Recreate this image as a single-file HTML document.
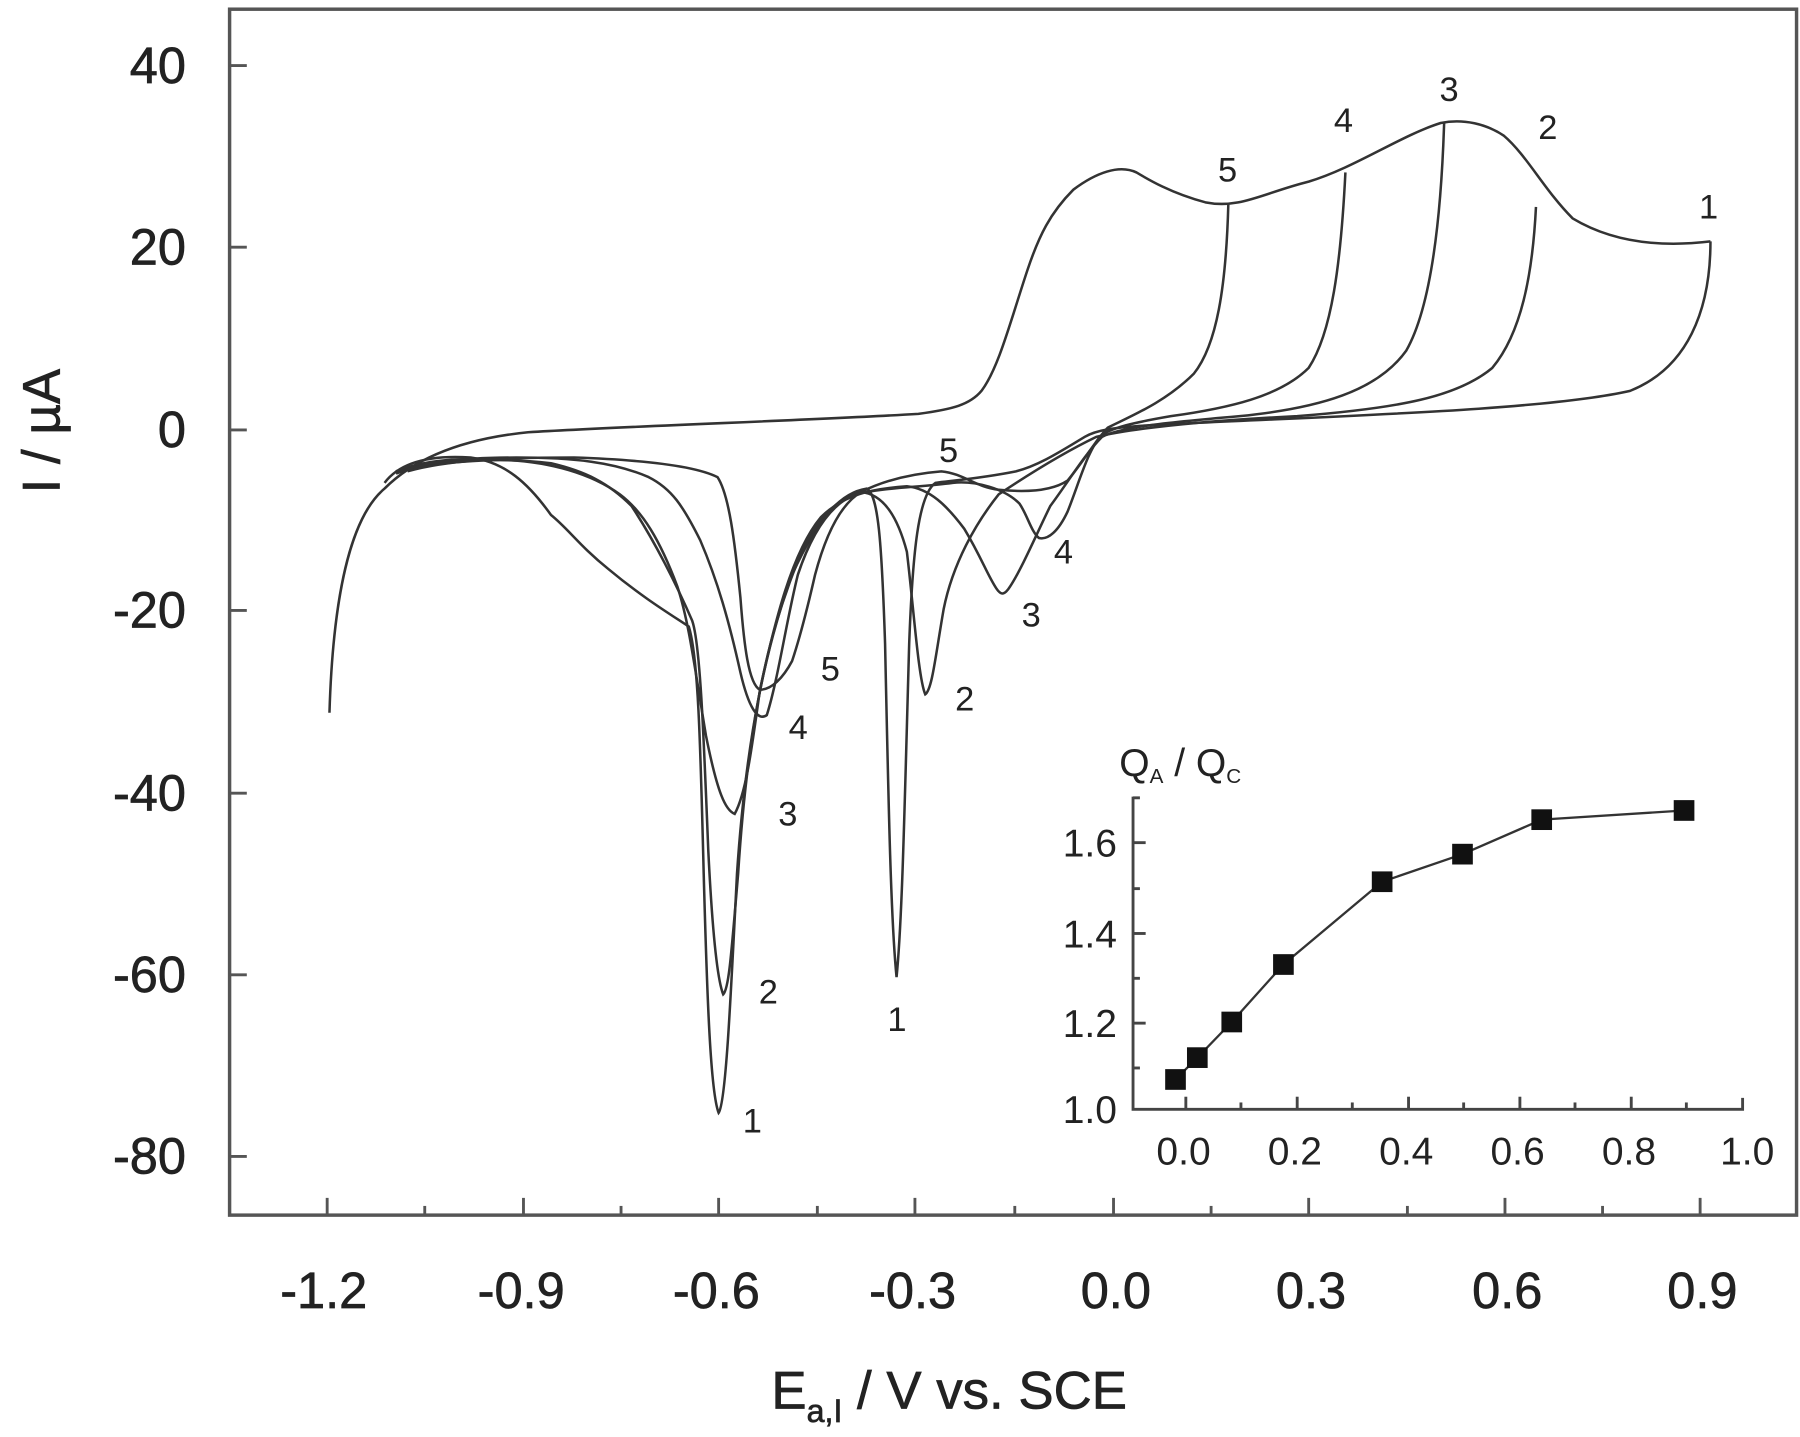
<!DOCTYPE html>
<html><head><style>
html,body{margin:0;padding:0;background:#fff;}
svg{display:block;}
text{font-family:"Liberation Sans",sans-serif;fill:#222;}
.s{font-family:"Liberation Serif",serif;font-size:30px;}
</style></head><body>
<svg width="1800" height="1437" viewBox="0 0 1568 1250" preserveAspectRatio="none">
<rect x="200" y="8" width="1365" height="1049" fill="none" stroke="#555" stroke-width="3"/>
<g stroke="#555" stroke-width="2.5">
<line x1="200" y1="57" x2="215" y2="57"/><line x1="200" y1="215" x2="215" y2="215"/><line x1="200" y1="374" x2="215" y2="374"/><line x1="200" y1="531" x2="215" y2="531"/><line x1="200" y1="690" x2="215" y2="690"/><line x1="200" y1="848" x2="215" y2="848"/><line x1="200" y1="1006" x2="215" y2="1006"/>
<line x1="285" y1="1057" x2="285" y2="1042"/><line x1="456" y1="1057" x2="456" y2="1042"/><line x1="626" y1="1057" x2="626" y2="1042"/><line x1="797" y1="1057" x2="797" y2="1042"/><line x1="970" y1="1057" x2="970" y2="1042"/><line x1="1140" y1="1057" x2="1140" y2="1042"/><line x1="1311" y1="1057" x2="1311" y2="1042"/><line x1="1481" y1="1057" x2="1481" y2="1042"/>
<line x1="370" y1="1057" x2="370" y2="1049"/><line x1="541" y1="1057" x2="541" y2="1049"/><line x1="712" y1="1057" x2="712" y2="1049"/><line x1="884" y1="1057" x2="884" y2="1049"/><line x1="1055" y1="1057" x2="1055" y2="1049"/><line x1="1226" y1="1057" x2="1226" y2="1049"/><line x1="1396" y1="1057" x2="1396" y2="1049"/>
</g>
<g font-size="44" text-anchor="end" stroke="#222" stroke-width="0.6">
<text x="162" y="72">40</text><text x="162" y="230">20</text><text x="162" y="389">0</text><text x="162" y="546">-20</text><text x="162" y="705">-40</text><text x="162" y="863">-60</text><text x="162" y="1021">-80</text>
</g>
<g font-size="44" text-anchor="middle" stroke="#222" stroke-width="0.6">
<text x="282" y="1138">-1.2</text><text x="454" y="1138">-0.9</text><text x="624" y="1138">-0.6</text><text x="795" y="1138">-0.3</text><text x="972" y="1138">0.0</text><text x="1142" y="1138">0.3</text><text x="1313" y="1138">0.6</text><text x="1483" y="1138">0.9</text>
</g>
<text x="672" y="1225" font-size="46" stroke="#222" stroke-width="0.6">E<tspan font-size="28" dy="12">a,I</tspan><tspan dy="-12"> / V  vs. SCE</tspan></text>
<text transform="translate(52,375) rotate(-90)" font-size="46" text-anchor="middle" stroke="#222" stroke-width="0.6">I / µA</text>
<g fill="none" stroke="#333" stroke-width="2.2">
<path d="M287,620 C290,520 305,450 335,425 C360,400 400,382 460,376 C560,370 700,366 800,360 C830,356 845,352 855,340 C870,320 880,280 895,235 C905,205 915,185 935,165 C955,150 975,143 990,150 C1000,156 1020,168 1050,176 C1080,182 1100,168 1140,158 C1180,146 1220,118 1255,107 C1275,103 1295,108 1310,118 C1330,135 1345,165 1370,190 C1400,208 1440,216 1490,210"/>
<path d="M1490,210 C1490,270 1470,320 1420,340 C1340,358 1150,362 1000,370 C970,372 955,374 945,380 C925,392 905,405 885,410 C855,416 830,418 815,420 C800,430 795,480 792,560 C788,700 786,800 781,850 C776,800 774,700 771,560 C768,470 765,430 755,425 C735,428 715,445 690,500 C668,560 650,640 642,760 C636,880 632,960 626,968 C619,950 616,870 613,760 C610,640 608,570 600,545 C585,535 560,520 530,495 C505,475 495,460 480,448 C460,420 440,402 410,398 C380,396 350,400 335,420"/>
<path d="M1338,180 C1335,240 1325,290 1300,320 C1270,345 1220,355 1130,362 C1050,366 990,372 955,380 C930,392 900,410 870,430 C850,455 830,490 822,530 C815,570 812,600 806,604 C800,590 796,530 790,480 C782,450 770,430 750,428 C720,435 700,470 685,515 C665,570 650,650 643,760 C637,830 635,860 630,865 C624,850 620,800 617,740 C613,640 610,560 603,540 C590,510 570,470 550,440 C530,420 510,410 480,403 C440,398 400,400 350,408"/>
<path d="M1258,107 C1255,200 1245,270 1225,305 C1200,340 1150,355 1080,362 C1010,368 975,372 960,380 C945,395 930,420 915,440 C905,460 890,495 880,510 C875,518 872,518 868,512 C860,500 855,485 840,460 C825,440 810,425 790,423 C760,425 735,430 715,450 C690,480 675,540 662,600 C655,650 650,690 640,708 C632,705 625,690 615,640 C605,580 600,540 590,510 C575,470 560,445 540,430 C515,412 480,402 440,400 C400,398 370,400 345,410"/>
<path d="M1172,150 C1168,230 1160,290 1140,320 C1115,345 1070,355 1020,362 C985,368 970,372 960,378 C948,390 940,420 930,445 C922,462 913,470 905,468 C898,462 895,448 888,438 C875,425 850,418 830,420 C800,424 770,424 745,430 C720,440 705,470 695,500 C685,540 678,590 668,622 C660,628 652,615 645,585 C635,540 625,505 610,470 C595,440 585,425 565,415 C535,402 500,398 450,398 C400,398 370,402 345,412"/>
<path d="M1070,178 C1068,250 1060,300 1040,325 C1015,350 985,362 965,372 C955,382 945,400 930,418 C915,428 890,428 870,426 C850,424 840,412 820,410 C795,412 770,418 750,428 C730,440 718,470 710,500 C702,535 695,560 690,575 C682,590 672,600 662,600 C652,595 648,560 645,520 C640,470 635,430 625,415 C605,405 560,400 500,398 C440,398 390,400 355,410"/>
</g>
<g class="s">
<text x="1061" y="158">5</text><text x="1162" y="115">4</text><text x="1254" y="88">3</text><text x="1340" y="121">2</text><text x="1480" y="190">1</text>
<text x="818" y="402">5</text><text x="918" y="490">4</text><text x="890" y="545">3</text><text x="832" y="618">2</text><text x="773" y="897">1</text>
<text x="715" y="592">5</text><text x="687" y="643">4</text><text x="678" y="718">3</text><text x="661" y="873">2</text><text x="647" y="985">1</text>
</g>
<g stroke="#444" stroke-width="2.5" fill="none">
<path d="M987,693 L987,965 L1518,965 L1518,955"/>
<line x1="987" y1="890" x2="998" y2="890"/><line x1="987" y1="812" x2="998" y2="812"/><line x1="987" y1="733" x2="998" y2="733"/>
<line x1="987" y1="851" x2="993" y2="851"/><line x1="987" y1="773" x2="993" y2="773"/><line x1="987" y1="694" x2="993" y2="694"/><line x1="987" y1="929" x2="993" y2="929"/>
<line x1="1033" y1="965" x2="1033" y2="954"/><line x1="1130" y1="965" x2="1130" y2="954"/><line x1="1227" y1="965" x2="1227" y2="954"/><line x1="1324" y1="965" x2="1324" y2="954"/><line x1="1421" y1="965" x2="1421" y2="954"/>
<line x1="1081" y1="965" x2="1081" y2="959"/><line x1="1178" y1="965" x2="1178" y2="959"/><line x1="1275" y1="965" x2="1275" y2="959"/><line x1="1372" y1="965" x2="1372" y2="959"/><line x1="1469" y1="965" x2="1469" y2="959"/>
</g>
<g font-size="34" text-anchor="end" fill="#333">
<text x="973" y="977">1.0</text><text x="973" y="902">1.2</text><text x="973" y="824">1.4</text><text x="973" y="745">1.6</text>
</g>
<g font-size="34" text-anchor="middle">
<text x="1031" y="1013">0.0</text><text x="1128" y="1013">0.2</text><text x="1225" y="1013">0.4</text><text x="1322" y="1013">0.6</text><text x="1419" y="1013">0.8</text><text x="1522" y="1013">1.0</text>
</g>
<text x="975" y="675" font-size="34">Q<tspan font-size="18" dy="6">A</tspan><tspan dy="-6"> / Q</tspan><tspan font-size="18" dy="6">C</tspan></text>
<polyline points="1024,939 1043,920 1073,889 1118,839 1204,767 1274,743 1343,713 1467,705" fill="none" stroke="#333" stroke-width="2"/>
<g fill="#111">
<rect x="1015" y="930" width="18" height="18"/><rect x="1034" y="911" width="18" height="18"/><rect x="1064" y="880" width="18" height="18"/><rect x="1109" y="830" width="18" height="18"/><rect x="1195" y="758" width="18" height="18"/><rect x="1265" y="734" width="18" height="18"/><rect x="1334" y="704" width="18" height="18"/><rect x="1458" y="696" width="18" height="18"/>
</g>
</svg>
</body></html>
